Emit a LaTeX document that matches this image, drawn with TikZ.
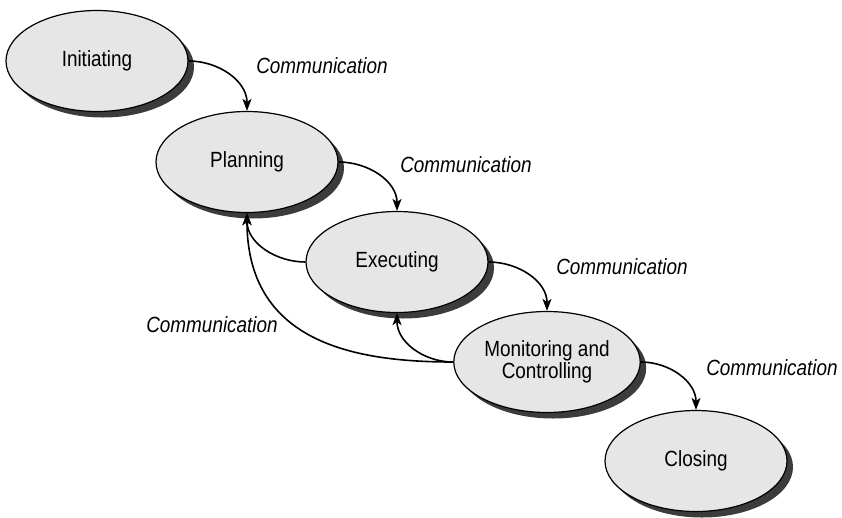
\documentclass[tikz,border=0pt]{standalone}
\usepackage{fontspec}
\setmainfont{Liberation Sans}[FakeStretch=0.86]
\usetikzlibrary{arrows.meta,shadows,shapes.geometric}
\definecolor{phasefill}{HTML}{E6E6E6}
\definecolor{phaseshade}{HTML}{3C3C3C}
\tikzset{
  phase/.style={ellipse, draw, line width=1.2pt, fill=phasefill,
    minimum width=182pt, minimum height=101pt, align=center,
    font=\fontsize{22}{22}\selectfont,
    drop shadow={shadow xshift=6pt, shadow yshift=-6pt, fill=phaseshade, opacity=1}},
  comm/.style={font=\fontsize{22}{22}\selectfont\itshape},
  flow/.style={line width=1.6pt, -{Stealth[length=12pt,width=9pt,inset=3pt]}}
}
\begin{document}
\begin{tikzpicture}[x=1pt,y=1pt]
\useasboundingbox (0,0) rectangle (842,-517);
\node[phase] (init) at (97,-61) {Initiating};
\node[phase] (plan) at (247,-162) {Planning};
\node[phase] (exec) at (397,-262) {Executing};
\node[phase] (monit) at (547,-362) {Monitoring and\\Controlling};
\node[phase] (close) at (696,-461) {Closing};
\node[comm] (c1) at (322,-66) {Communication};
\node[comm] (c2) at (466,-165) {Communication};
\node[comm] (c3) at (622,-267) {Communication};
\node[comm] (c4) at (772,-368) {Communication};
\node[comm] (c5) at (212,-325) {Communication};
\draw[flow] (init.east) to[out=0,in=90] (plan.north);
\draw[flow] (plan.east) to[out=0,in=90] (exec.north);
\draw[flow] (exec.east) to[out=0,in=90] (monit.north);
\draw[flow] (monit.east) to[out=0,in=90] (close.north);
\draw[flow] (exec.west) to[out=180,in=-90] (plan.south);
\draw[flow] (monit.west) to[out=180,in=-90] (exec.south);
\draw[flow] (monit.west) to[out=180,in=-90,in looseness=1.3] (plan.south);
\end{tikzpicture}
\end{document}
